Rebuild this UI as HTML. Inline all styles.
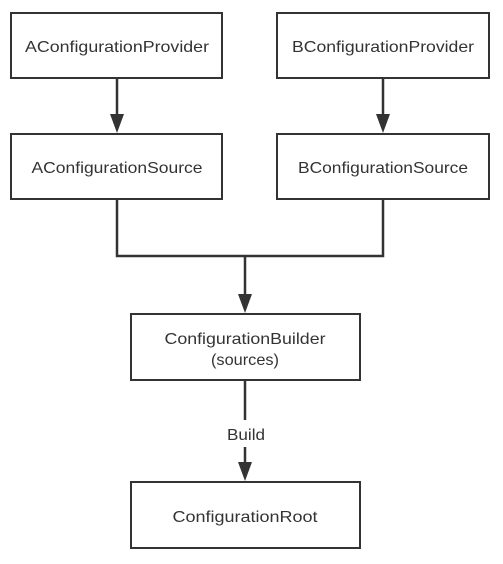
<!DOCTYPE html>
<html><head><style>
body{margin:0;background:#fff;}
svg text{font-family:"Liberation Sans",sans-serif;font-size:16px;fill:#333;text-anchor:middle;}
</style></head><body>
<svg width="503" height="559" viewBox="0 0 503 559">
<g fill="#fff" stroke="#333" stroke-width="2">
<rect x="11" y="13" width="211" height="65"/>
<rect x="277" y="13" width="212" height="65"/>
<rect x="11" y="134" width="211" height="65"/>
<rect x="277" y="134" width="212" height="65"/>
<rect x="131" y="314" width="229" height="66"/>
<rect x="131" y="482" width="229" height="66"/>
</g>
<g stroke="#333" stroke-width="2.5" fill="none">
<path d="M117 78V120"/>
<path d="M383 78V120"/>
<path d="M117 199V256H383V199"/>
<path d="M245 256V298"/>
<path d="M245 380V420"/>
<path d="M245 447V466"/>
</g>
<g fill="#333">
<path d="M110 114L124 114L117 133Z"/>
<path d="M376 114L390 114L383 133Z"/>
<path d="M238 294L252 294L245 313Z"/>
<path d="M238 462L252 462L245 481Z"/>
</g>
<text x="117" y="52" textLength="184" lengthAdjust="spacingAndGlyphs">AConfigurationProvider</text>
<text x="383" y="52" textLength="182" lengthAdjust="spacingAndGlyphs">BConfigurationProvider</text>
<text x="117" y="173" textLength="171" lengthAdjust="spacingAndGlyphs">AConfigurationSource</text>
<text x="383" y="173" textLength="170" lengthAdjust="spacingAndGlyphs">BConfigurationSource</text>
<text x="245" y="344" textLength="161" lengthAdjust="spacingAndGlyphs">ConfigurationBuilder</text>
<text x="245" y="365" textLength="68" lengthAdjust="spacingAndGlyphs">(sources)</text>
<text x="246" y="440" textLength="38" lengthAdjust="spacingAndGlyphs">Build</text>
<text x="245" y="522" textLength="145" lengthAdjust="spacingAndGlyphs">ConfigurationRoot</text>
</svg>
</body></html>
